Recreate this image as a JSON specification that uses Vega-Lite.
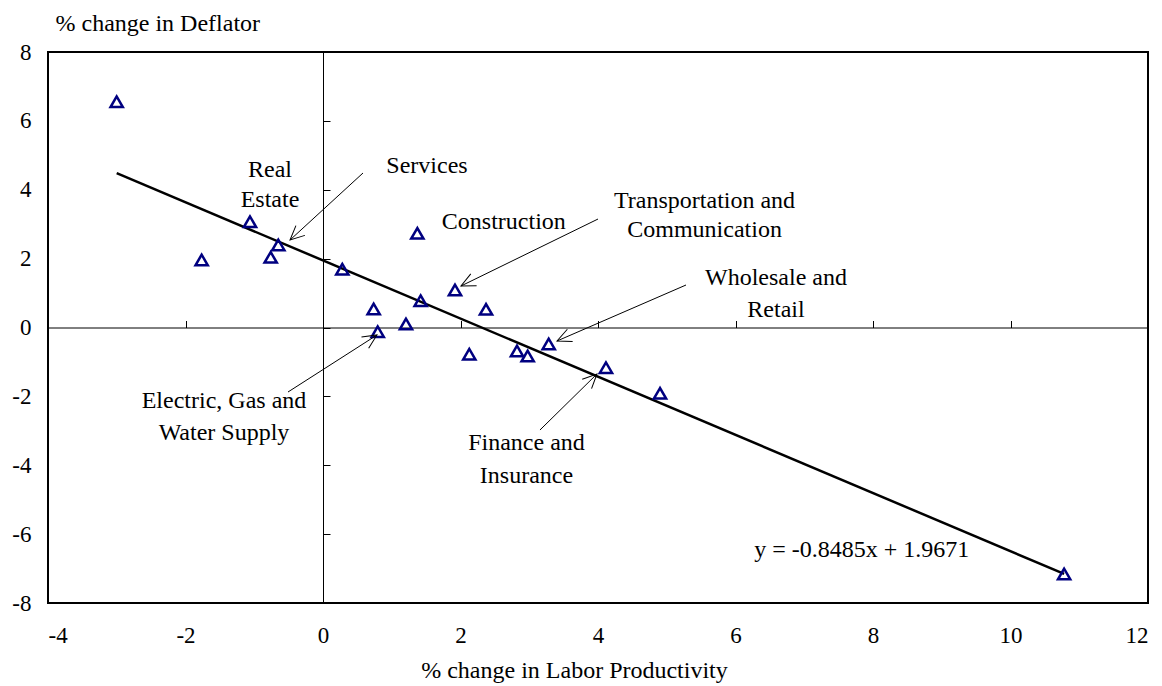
{
  "$schema": "https://vega.github.io/schema/vega-lite/v6.json",
  "width": 1100,
  "height": 551,
  "autosize": {"type": "none"},
  "padding": {"left": 48, "top": 52, "right": 14, "bottom": 83},
  "background": "white",
  "config": {
    "view": {"stroke": "black", "strokeWidth": 2},
    "axis": {"grid": false, "labelFont": "Liberation Serif", "titleFont": "Liberation Serif", "labelColor": "black", "titleColor": "black", "titleFontWeight": "normal"},
    "text": {"font": "Liberation Serif"}
  },
  "datasets": {
    "points": [
      {"dx": -3.001, "dy": 6.556},
      {"dx": -1.062, "dy": 3.072},
      {"dx": -0.65, "dy": 2.395},
      {"dx": -1.765, "dy": 1.96},
      {"dx": -0.761, "dy": 2.038},
      {"dx": 0.281, "dy": 1.69},
      {"dx": 1.372, "dy": 2.735},
      {"dx": 0.737, "dy": 0.537},
      {"dx": 1.421, "dy": 0.778},
      {"dx": 1.92, "dy": 1.089},
      {"dx": 2.371, "dy": 0.528},
      {"dx": 0.796, "dy": -0.122},
      {"dx": 1.207, "dy": 0.102},
      {"dx": 2.128, "dy": -0.778},
      {"dx": 2.822, "dy": -0.682},
      {"dx": 2.977, "dy": -0.828},
      {"dx": 3.283, "dy": -0.479},
      {"dx": 4.116, "dy": -1.167},
      {"dx": 4.902, "dy": -1.911},
      {"dx": 10.78, "dy": -7.157}
    ],
    "labels": [
      {"text": "Real", "lx": -0.771, "ly": 4.588},
      {"text": "Estate", "lx": -0.771, "ly": 3.7},
      {"text": "Services", "lx": 1.513, "ly": 4.7},
      {"text": "Construction", "lx": 2.63, "ly": 3.063},
      {"text": "Transportation and", "lx": 5.55, "ly": 3.687},
      {"text": "Communication", "lx": 5.55, "ly": 2.83},
      {"text": "Wholesale and", "lx": 6.589, "ly": 1.437},
      {"text": "Retail", "lx": 6.589, "ly": 0.5},
      {"text": "Electric, Gas and", "lx": -1.44, "ly": -2.134},
      {"text": "Water Supply", "lx": -1.44, "ly": -3.05},
      {"text": "Finance and", "lx": 2.96, "ly": -3.35},
      {"text": "Insurance", "lx": 2.96, "ly": -4.31},
      {"text": "y = -0.8485x + 1.9671", "lx": 7.835, "ly": -6.46}
    ],
    "arrows": [
      {"name": "Services", "x1": 0.582, "y1": 4.486, "x2": -0.48, "y2": 2.54},
      {"name": "Transportation and Communication", "x1": 4.0, "y1": 3.15, "x2": 2.007, "y2": 1.205},
      {"name": "Wholesale and Retail", "x1": 5.28, "y1": 1.234, "x2": 3.404, "y2": -0.392},
      {"name": "Finance and Insurance", "x1": 3.156, "y1": -2.976, "x2": 3.985, "y2": -1.35},
      {"name": "Electric, Gas and Water Supply", "x1": -0.509, "y1": -1.873, "x2": 0.785, "y2": -0.218}
    ]
  },
  "layer": [
    {
      "data": {"name": "points"},
      "transform": [{"regression": "dy", "on": "dx"}],
      "mark": {"type": "line", "color": "black", "strokeWidth": 2.5},
      "encoding": {
        "x": {"field": "dx", "type": "quantitative", "scale": {"domain": [-4, 12], "nice": false, "zero": false},
          "axis": {"orient": "bottom", "offset": -275.5, "labels": false, "domain": true, "domainColor": "black", "domainWidth": 1, "ticks": true, "tickSize": -7, "tickColor": "black", "tickWidth": 1, "values": [-4, -2, 0, 2, 4, 6, 8, 10, 12], "title": null}},
        "y": {"field": "dy", "type": "quantitative", "scale": {"domain": [-8, 8], "nice": false, "zero": false},
          "axis": {"orient": "left", "offset": -275, "labels": false, "domain": true, "domainColor": "black", "domainWidth": 1, "ticks": true, "tickSize": -7, "tickColor": "black", "tickWidth": 1, "values": [-8, -6, -4, -2, 0, 2, 4, 6, 8], "title": null}}
      }
    },
    {
      "data": {"name": "points"},
      "mark": {"type": "point", "shape": "triangle-up", "filled": false, "color": "#000080", "strokeWidth": 2.5, "size": 150, "opacity": 1},
      "encoding": {
        "x": {"field": "dx", "type": "quantitative",
          "axis": {"orient": "bottom", "domain": false, "ticks": false, "tickSize": 0, "labelPadding": 21, "labelFontSize": 23, "labelExpr": "'' + datum.value", "values": [-4, -2, 0, 2, 4, 6, 8, 10, 12],
            "title": "% change in Labor Productivity", "titleFontSize": 24, "titleX": 526, "titleY": 74, "titleBaseline": "alphabetic", "titleAlign": "center", "titleAnchor": null}},
        "y": {"field": "dy", "type": "quantitative",
          "axis": {"orient": "left", "domain": false, "ticks": false, "tickSize": 0, "labelPadding": 17, "labelFontSize": 23, "labelExpr": "'' + datum.value", "values": [-8, -6, -4, -2, 0, 2, 4, 6, 8],
            "title": "% change in Deflator", "titleFontSize": 24, "titleAngle": 0, "titleX": 7, "titleY": -22, "titleAlign": "left", "titleBaseline": "alphabetic", "titleAnchor": null}}
      }
    },
    {
      "data": {"name": "arrows"},
      "mark": {"type": "rule", "color": "black", "strokeWidth": 1},
      "encoding": {
        "x": {"field": "x1", "type": "quantitative", "axis": null},
        "y": {"field": "y1", "type": "quantitative", "axis": null},
        "x2": {"field": "x2"},
        "y2": {"field": "y2"}
      }
    },
    {
      "data": {"name": "arrows"},
      "transform": [{"calculate": "atan2(-(datum.y2 - datum.y1) * 551 / 16, (datum.x2 - datum.x1) * 1100 / 16) * 180 / PI", "as": "ang"}],
      "mark": {"type": "point", "shape": "M-1,-0.47L0,0L-1,0.47", "filled": false, "stroke": "black", "strokeWidth": 1, "size": 800, "opacity": 1},
      "encoding": {
        "x": {"field": "x2", "type": "quantitative", "axis": null},
        "y": {"field": "y2", "type": "quantitative", "axis": null},
        "angle": {"field": "ang", "type": "quantitative", "scale": null}
      }
    },
    {
      "data": {"name": "labels"},
      "mark": {"type": "text", "font": "Liberation Serif", "fontSize": 24, "color": "black", "align": "center", "baseline": "middle"},
      "encoding": {
        "x": {"field": "lx", "type": "quantitative", "axis": null},
        "y": {"field": "ly", "type": "quantitative", "axis": null},
        "text": {"field": "text", "type": "nominal"}
      }
    }
  ],
  "resolve": {"axis": {"x": "independent", "y": "independent"}}
}
